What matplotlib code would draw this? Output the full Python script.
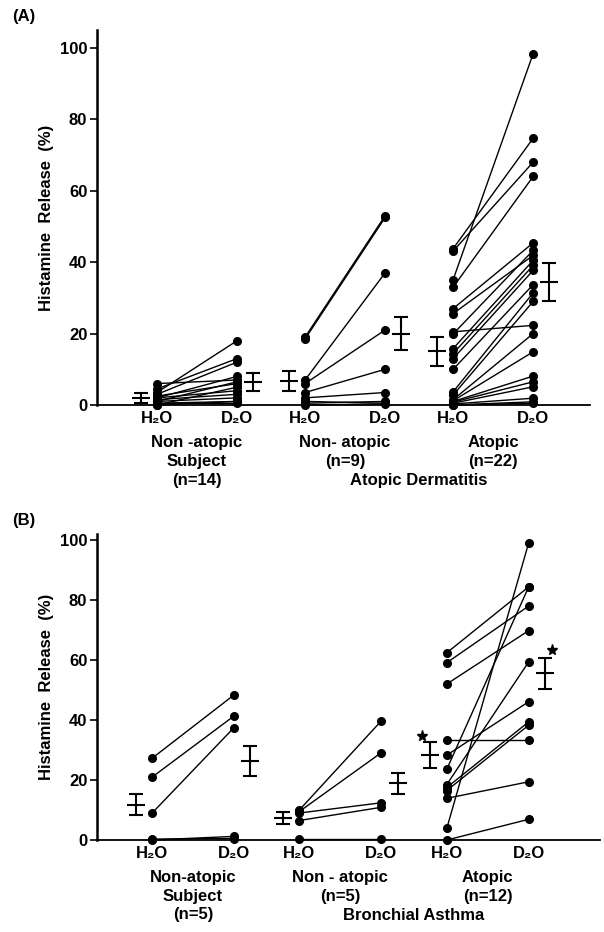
import matplotlib
matplotlib.use("Agg")
import matplotlib.pyplot as plt

plt.rcParams['font.family'] = ['Liberation Sans', 'DejaVu Sans']
plt.rcParams['font.weight'] = 'bold'

# ---- data (histamine release, %) ----
# Panel A: atopic dermatitis
a_ctrl_h2o = [6, 4.5, 3.5, 3, 2.5, 2, 2, 1.5, 1, 1, 0.5, 0.5, 0, 0]
a_ctrl_d2o = [7, 13, 18, 12, 6, 8, 4, 3, 2, 6.5, 1, 0.5, 5, 1]
a_nonat_h2o = [19, 18.5, 7, 6, 3.5, 2, 1, 0.5, 0]
a_nonat_d2o = [53, 52.5, 37, 21, 10, 3.5, 0.5, 1, 0.3]
a_atop_h2o = [43.8, 43.1, 35.1, 33, 27, 25.6, 20.5, 19.9, 15.8, 14.4, 13,
              10, 3.7, 2.8, 1.5, 1.2, 1, 0.8, 0.5, 0.3, 0, 0]
a_atop_d2o = [74.7, 68, 98.4, 64, 45.4, 41.9, 22.3, 43.3, 40.5, 39.1, 37.7,
              33.7, 31.4, 29, 20, 14.9, 8.1, 6.5, 5.1, 1.9, 0.9, 0.5]
a_mean_h2o = [2, 6.8, 15]
a_sem_h2o = [1.4, 2.8, 4]
a_mean_d2o = [6.4, 20, 34.4]
a_sem_d2o = [2.5, 4.7, 5.3]

# Panel B: bronchial asthma
b_ctrl_h2o = [27.2, 20.9, 8.9, 0, 0.3]
b_ctrl_d2o = [48.3, 41.3, 37.4, 1.2, 0.5]
b_nonat_h2o = [10, 9.5, 9, 6.5, 0.3]
b_nonat_d2o = [39.7, 29.1, 12.4, 10.9, 0.3]
b_atop_h2o = [62.4, 59.1, 52, 33.3, 28.3, 23.6, 18.5, 17.5, 16.5, 13.9, 3.9, 0]
b_atop_d2o = [84.4, 78, 69.8, 33.3, 46.1, 84.4, 59.4, 39.4, 38.3, 19.4, 99.1, 6.9]
b_mean_h2o = [11.7, 7.4, 28.3]
b_sem_h2o = [3.5, 1.9, 4.3]
b_mean_d2o = [26.4, 18.9, 55.6]
b_sem_d2o = [4.9, 3.5, 5.1]

tick_names = ['H₂O', 'D₂O']
a_groups = [['Non -atopic', 'Subject', '(n=14)'], ['Non- atopic', '(n=9)'], ['Atopic', '(n=22)']]
b_groups = [['Non-atopic', 'Subject', '(n=5)'], ['Non - atopic', '(n=5)'], ['Atopic', '(n=12)']]
a_disease = 'Atopic Dermatitis'
b_disease = 'Bronchial Asthma'

FS = 12


def draw_panel(ax, pairs, means_h, sems_h, means_d, sems_d, groups, disease,
               spacing, xlim, ylim):
    xt = []
    for g, (h, d) in enumerate(pairs):
        x0 = g * spacing
        for yh, yd in zip(h, d):
            ax.plot([x0, x0 + 1], [yh, yd], color='black', lw=1,
                    marker='o', ms=5.5, clip_on=False, zorder=3)
        # mean +/- SEM
        ax.errorbar(x0 - 0.2, means_h[g], yerr=sems_h[g], fmt='_', color='black',
                    ms=13, mew=1.5, elinewidth=1.5, capsize=5, capthick=1.5)
        ax.errorbar(x0 + 1.2, means_d[g], yerr=sems_d[g], fmt='_', color='black',
                    ms=13, mew=1.5, elinewidth=1.5, capsize=5, capthick=1.5)
        xt += [x0, x0 + 1]
        # group labels under the axis
        for k, line in enumerate(groups[g]):
            ax.annotate(line, xy=(x0 + 0.5, 0), xycoords=('data', 'axes fraction'),
                        xytext=(0, -27 - 13.5 * k), textcoords='offset points',
                        ha='center', va='center', fontsize=FS, fontweight='bold')
    ax.annotate(disease, xy=(1.5 * spacing + 0.5, 0), xycoords=('data', 'axes fraction'),
                xytext=(0, -54), textcoords='offset points',
                ha='center', va='center', fontsize=FS, fontweight='bold')

    ax.set_xticks(xt)
    ax.set_xticklabels(tick_names * 3, fontsize=FS, fontweight='bold')
    ax.tick_params(axis='x', length=0, pad=4)
    ax.set_yticks([0, 20, 40, 60, 80, 100])
    ax.tick_params(axis='y', length=5, width=1.2, labelsize=FS, pad=2)
    for lab in ax.get_yticklabels():
        lab.set_fontweight('bold')
    ax.set_xlim(*xlim)
    ax.set_ylim(*ylim)
    ax.spines['top'].set_visible(False)
    ax.spines['right'].set_visible(False)
    ax.spines['left'].set_linewidth(1.8)
    ax.spines['bottom'].set_linewidth(1.3)
    ax.set_ylabel('Histamine  Release  (%)', fontsize=FS, fontweight='bold', labelpad=4)


fig = plt.figure(figsize=(6.04, 9.32), dpi=100)

ax_a = fig.add_axes([97 / 604, 1 - 405 / 932, 493 / 604, 375 / 932])
draw_panel(ax_a,
           [(a_ctrl_h2o, a_ctrl_d2o), (a_nonat_h2o, a_nonat_d2o), (a_atop_h2o, a_atop_d2o)],
           a_mean_h2o, a_sem_h2o, a_mean_d2o, a_sem_d2o, a_groups, a_disease,
           1.85, (-0.75, 5.41), (0, 105))

ax_b = fig.add_axes([97 / 604, 1 - 840 / 932, 503 / 604, 306 / 932])
draw_panel(ax_b,
           [(b_ctrl_h2o, b_ctrl_d2o), (b_nonat_h2o, b_nonat_d2o), (b_atop_h2o, b_atop_d2o)],
           b_mean_h2o, b_sem_h2o, b_mean_d2o, b_sem_d2o, b_groups, b_disease,
           1.8, (-0.67, 5.47), (0, 102))

# significance stars on the atopic asthma group
ax_b.plot(2 * 1.8 - 0.3, b_mean_h2o[2] + b_sem_h2o[2] + 2, marker='*', color='black', ms=8)
ax_b.plot(2 * 1.8 + 1.29, b_mean_d2o[2] + b_sem_d2o[2] + 2.5, marker='*', color='black', ms=8)

fig.text(12 / 604, 1 - 17 / 932, '(A)', fontsize=FS, fontweight='bold', va='center')
fig.text(12 / 604, 1 - 520 / 932, '(B)', fontsize=FS, fontweight='bold', va='center')

fig.savefig('out.png', dpi=100)
